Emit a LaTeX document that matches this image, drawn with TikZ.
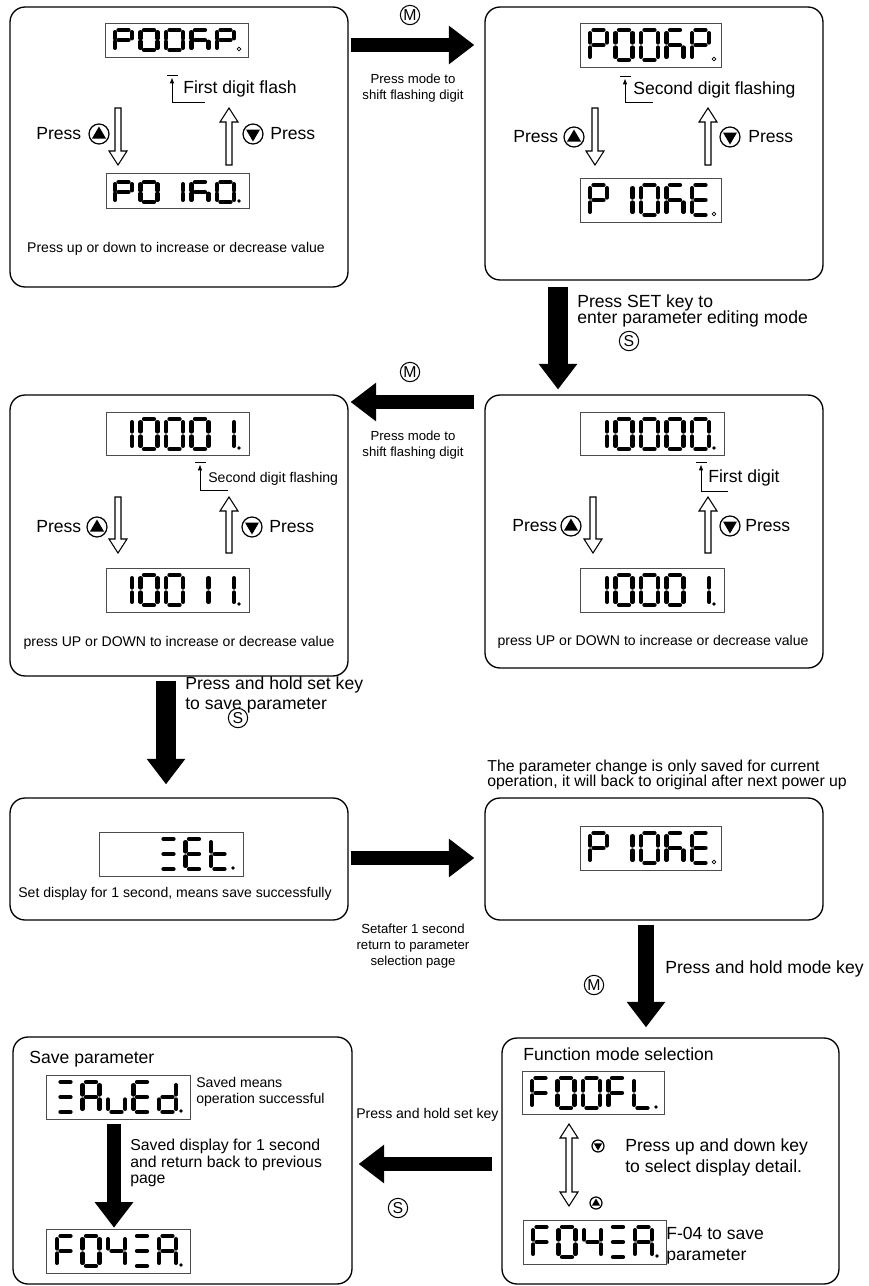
\documentclass[tikz,border=0pt]{standalone}
\usepackage{fontspec}
\setmainfont{Liberation Sans}
\usetikzlibrary{arrows.meta}

% segment lists of the display glyphs
\newcommand*{\segN}{}
\newcommand*{\segO}{a,b,c,d,e,f}
\newcommand*{\segI}{b,c}
\newcommand*{\segIV}{b,c,f,g}
\newcommand*{\segP}{a,b,e,f,g}
\newcommand*{\segR}{a,c,e,f,g}
\newcommand*{\segE}{a,d,e,f,g}
\newcommand*{\segF}{a,e,f,g}
\newcommand*{\segL}{d,e,f}
\newcommand*{\segT}{d,e,f,g}
\newcommand*{\segS}{a,d,g}
\newcommand*{\segA}{a,b,c,e,f,g}
\newcommand*{\segU}{c,d,e}
\newcommand*{\segD}{b,c,d,e,g}

\tikzset{
  panel/.style={draw, line width=0.75pt, rounded corners=8.5pt, inner sep=0pt,
    minimum width=6.76cm},
  lcd/.style={draw=black!70, line width=0.5pt, inner sep=0pt,
    minimum width=2.86cm, minimum height=0.88cm},
  lcdseg/.style={line width=2.3pt, line cap=round},
  lcddot/.style={fill},
  lcdring/.style={draw, line width=0.4pt},
  lcdglyph/.pic={
    \coordinate (sa1) at (0.2,0);     \coordinate (sa2) at (0.8,0);
    \coordinate (sb1) at (1,0.1);     \coordinate (sb2) at (1,0.42);
    \coordinate (sc1) at (1,0.58);    \coordinate (sc2) at (1,0.9);
    \coordinate (sd1) at (0.2,1);     \coordinate (sd2) at (0.8,1);
    \coordinate (se1) at (0,0.58);    \coordinate (se2) at (0,0.9);
    \coordinate (sf1) at (0,0.1);     \coordinate (sf2) at (0,0.42);
    \coordinate (sg1) at (0.2,0.5);   \coordinate (sg2) at (0.8,0.5);
    \edef\seglist{#1}
    \ifx\seglist\empty\else
      \foreach \s in \seglist {\draw[lcdseg] (s\s1) -- (s\s2);}
    \fi
  },
  keyup/.pic={
    \draw[line width=0.7pt, fill=white] (0,0) circle (10);
    \fill (0,-7.5) -- (7,4.5) -- (-7,4.5) -- cycle;
  },
  keydown/.pic={
    \draw[line width=0.7pt, fill=white] (0,0) circle (10);
    \fill (0,7.5) -- (7,-4.5) -- (-7,-4.5) -- cycle;
  },
  bigarrow/.style={line width=#1, -{Triangle[length=14.5pt,width=21pt]}},
  bigarrow/.default=8.5pt,
  hollow/.style={line width=0.6pt, fill=white},
  keyletter/.style={draw, circle, line width=0.6pt, minimum size=11pt, inner sep=0pt,
    font=\fontsize{9}{9}\selectfont},
  big/.style={font=\fontsize{10}{9.5}\selectfont, inner sep=0pt, align=left},
  mid/.style={font=\fontsize{8}{9.5}\selectfont, inner sep=0pt, align=left},
  tiny/.style={font=\fontsize{7.5}{9}\selectfont, inner sep=0pt, align=center},
}

% one row of five display cells: first x, top y, height, glyphs, point style
\newcommand{\lcdrow}[5]{%
  \foreach \g [count=\k from 0] in {#4}
    \pic[xscale=17, yscale=#3] at ({#1+25.5*\k},#2) {lcdglyph=\g};
  \path[#5] ({#1+124},{#2+#3-1}) circle (1.8);
}
% flashing digit marker: x, bar y, elbow y, end x
\newcommand{\digitmark}[4]{%
  \draw[line width=0.5pt] (#1-5,#2) -- (#1+6,#2);
  \draw[line width=0.5pt, -{Triangle[length=3pt,width=2.2pt]}] (#1,#3) -- (#1,#2+3);
  \draw[line width=0.5pt] (#1,#3) -- (#4,#3);
}
% outlined arrow: x, tail y, tip y
\newcommand{\hollowarrow}[3]{%
  \pgfmathsetmacro\hy{#3+(#3>#2 ? -14 : 14)}
  \draw[hollow] (#1-3,#2) -- (#1-3,\hy) -- (#1-9,\hy) -- (#1,#3)
    -- (#1+9,\hy) -- (#1+3,\hy) -- (#1+3,#2) -- cycle;
}

\begin{document}
\begin{tikzpicture}[x=0.02cm, y=-0.02cm]
  \useasboundingbox (0,0) rectangle (869,1286);

  % panels
  \node[panel, minimum height=5.6cm] (b1) at (179,147) {};
  \node[panel, minimum height=5.46cm] (b2) at (654,143.5) {};
  \node[panel, minimum height=5.62cm] (b3) at (179,535.5) {};
  \node[panel, minimum height=5.46cm] (b4) at (654,531.5) {};
  \node[panel, minimum height=2.44cm] (b5) at (179,859) {};
  \node[panel, minimum height=2.44cm] (b6) at (654,859) {};
  \node[panel, minimum width=6.78cm, minimum height=4.94cm] (b7) at (182.5,1160.5) {};
  \node[panel, minimum width=6.74cm, minimum height=4.92cm] (b8) at (670.5,1161) {};

  % displays
  \node[lcd, minimum height=0.68cm] (d1a) at (176.5,40) {};
  \node[lcd, minimum height=0.7cm] (d1b) at (178,190.5) {};
  \node[lcd, minimum width=2.82cm] (d2a) at (650.5,45) {};
  \node[lcd, minimum width=2.82cm] (d2b) at (650.5,200) {};
  \node[lcd, minimum height=0.86cm] (d3a) at (177.5,433.5) {};
  \node[lcd] (d3b) at (177.5,590) {};
  \node[lcd, minimum width=2.88cm, minimum height=0.86cm] (d4a) at (652,433.5) {};
  \node[lcd, minimum width=2.88cm] (d4b) at (652,590) {};
  \node[lcd, minimum width=2.88cm] (d5) at (171,854) {};
  \node[lcd, minimum width=2.82cm] (d6) at (650.5,848) {};
  \node[lcd, minimum width=2.88cm] (d7a) at (118,1097) {};
  \node[lcd, minimum width=2.88cm] (d7b) at (118,1251) {};
  \node[lcd, minimum width=2.84cm, minimum height=0.86cm] (d8a) at (593,1092.5) {};
  \node[lcd] (d8b) at (594.5,1242) {};

  \lcdrow{115}{30}{20}{\segP,\segO,\segO,\segR,\segP}{lcdring}
  \lcdrow{115}{182}{20}{\segP,\segO,\segI,\segR,\segO}{lcddot}
  \lcdrow{590}{30}{30}{\segP,\segO,\segO,\segR,\segP}{lcdring}
  \lcdrow{590}{185}{30}{\segP,\segI,\segO,\segR,\segE}{lcdring}
  \lcdrow{115}{419}{30}{\segI,\segO,\segO,\segO,\segI}{lcddot}
  \lcdrow{115}{575}{30}{\segI,\segO,\segO,\segI,\segI}{lcddot}
  \lcdrow{590}{419}{30}{\segI,\segO,\segO,\segO,\segO}{lcddot}
  \lcdrow{590}{575}{30}{\segI,\segO,\segO,\segO,\segI}{lcddot}
  \lcdrow{109}{839}{30}{\segN,\segN,\segS,\segE,\segT}{lcddot}
  \lcdrow{590}{833}{30}{\segP,\segI,\segO,\segR,\segE}{lcdring}
  \lcdrow{57}{1082}{30}{\segS,\segA,\segU,\segE,\segD}{lcddot}
  \lcdrow{57}{1236}{30}{\segF,\segO,\segIV,\segS,\segA}{lcddot}
  \lcdrow{532}{1078}{30}{\segF,\segO,\segO,\segF,\segL}{lcddot}
  \lcdrow{533}{1227}{30}{\segF,\segO,\segIV,\segS,\segA}{lcddot}

  % panel 1
  \digitmark{172}{75}{102}{205}
  \node[big, anchor=west] (t1) at (183,89) {First digit flash};
  \node[big, anchor=west] (p1a) at (36,134) {Press};
  \pic at (99,134) {keyup};
  \hollowarrow{118}{108}{165}
  \hollowarrow{229}{165}{108}
  \pic at (253,134) {keydown};
  \node[big, anchor=west] (p1b) at (270,134) {Press};
  \node[mid] (n1) at (176,249) {Press up or down to increase or decrease value};

  % panel 2
  \digitmark{625}{76}{102}{653}
  \node[big, anchor=west] (t2) at (633,90) {Second digit flashing};
  \node[big, anchor=west] (p2a) at (513,137) {Press};
  \pic at (574,137) {keyup};
  \hollowarrow{595}{108}{165}
  \hollowarrow{708}{165}{108}
  \pic at (730,137) {keydown};
  \node[big, anchor=west] (p2b) at (748,137) {Press};

  % panel 3
  \digitmark{200}{462}{490}{228}
  \node[mid, anchor=west] (t3) at (208,479) {Second digit flashing};
  \node[big, anchor=west] (p3a) at (36,527) {Press};
  \pic at (97,527) {keyup};
  \hollowarrow{118}{497}{553}
  \hollowarrow{229}{553}{497}
  \pic at (252,527) {keydown};
  \node[big, anchor=west] (p3b) at (269,527) {Press};
  \node[mid] (n3) at (179,643) {press UP or DOWN to increase or decrease value};

  % panel 4
  \digitmark{701}{462}{491}{728}
  \node[big, anchor=west] (t4) at (708,478) {First digit};
  \node[big, anchor=west] (p4a) at (512,526) {Press};
  \pic at (571,526) {keyup};
  \hollowarrow{593}{497}{553}
  \hollowarrow{708}{553}{497}
  \pic at (730,526) {keydown};
  \node[big, anchor=west] (p4b) at (745,526) {Press};
  \node[mid] (n4) at (653,642) {press UP or DOWN to increase or decrease value};

  % panel 5 and 6
  \node[mid] (n5) at (175,894) {Set display for 1 second, means save successfully};
  \node[font=\fontsize{9}{8.6}\selectfont, inner sep=0pt, anchor=west, align=left] (n6) at (487,775)
    {The parameter change is only saved for current\\operation, it will back to original after next power up};

  % panel 7
  \node[big, anchor=west] (h7) at (29,1059) {Save parameter};
  \node[mid, anchor=west] (t7) at (196,1092) {Saved means\\operation successful};
  \draw[bigarrow, shorten <=2.8pt, shorten >=0.5pt] (d7a.south -| 114,0) -- (d7b.north -| 114,0);
  \node[font=\fontsize{9}{9.6}\selectfont, inner sep=0pt, anchor=west, align=left] (s7) at (130,1163)
    {Saved display for 1 second\\and return back to previous\\page};

  % panel 8
  \node[big, anchor=west] (h8) at (523,1054) {Function mode selection};
  \draw[hollow] (566,1138) -- (560,1138) -- (569,1124) -- (578,1138) -- (572,1138)
    -- (572,1192) -- (578,1192) -- (569,1206) -- (560,1192) -- (566,1192) -- cycle;
  \pic[scale=0.6] at (598,1146) {keydown};
  \pic[scale=0.6] at (596,1203) {keyup};
  \node[big, anchor=west, font=\fontsize{10}{12}\selectfont] (t8) at (625,1157)
    {Press up and down key\\to select display detail.};
  \node[big, anchor=west, font=\fontsize{10}{12}\selectfont] (f8) at (666,1246)
    {F-04 to save\\parameter};

  % moves between panels
  \draw[bigarrow, shorten <=1.1pt, shorten >=5.7pt] (b1.east |- 0,45) -- (b2.west |- 0,45);
  \node[keyletter] (m1) at (410,15) {M};
  \node[tiny] (c1) at (413,88) {Press mode to\\shift flashing digit};

  \draw[bigarrow=11pt, shorten <=3.4pt, shorten >=2.8pt] (b2.south -| 558,0) -- (b4.north -| 558,0);
  \node[big, anchor=west] (c2) at (577,311) {Press SET key to\\enter parameter editing mode};
  \node[keyletter] (s2) at (629,341) {S};

  \draw[bigarrow, shorten <=5.7pt, shorten >=1.1pt] (b4.west |- 0,402) -- (b3.east |- 0,402);
  \node[keyletter] (m3) at (410,372) {M};
  \node[tiny] (c3) at (413,445) {Press mode to\\shift flashing digit};

  \draw[bigarrow=11pt, shorten <=2.3pt, shorten >=7.4pt] (b3.south -| 166,0) -- (b5.north -| 166,0);
  \node[big, anchor=west, font=\fontsize{10}{11.5}\selectfont] (c4) at (185,695)
    {Press and hold set key\\to save parameter};
  \node[keyletter] (s4) at (238,718) {S};

  \draw[bigarrow, shorten <=1.1pt, shorten >=5.7pt] (b5.east |- 0,858) -- (b6.west |- 0,858);
  \node[tiny] (c5) at (413,946) {Setafter 1 second\\return to parameter\\selection page};

  \draw[bigarrow=9.6pt, shorten <=2.3pt, shorten >=5.7pt] (b6.south -| 646,0) -- (b8.north -| 646,0);
  \node[big, anchor=west] (c6) at (665,969) {Press and hold mode key};
  \node[keyletter] (m6) at (594,985) {M};

  \draw[bigarrow, shorten <=5.1pt, shorten >=3.4pt] (b8.west |- 0,1164) -- (b7.east |- 0,1164);
  \node[mid, anchor=west] (c7) at (356,1115) {Press and hold set key};
  \node[keyletter] (s7k) at (398,1208) {S};
\end{tikzpicture}
\end{document}
